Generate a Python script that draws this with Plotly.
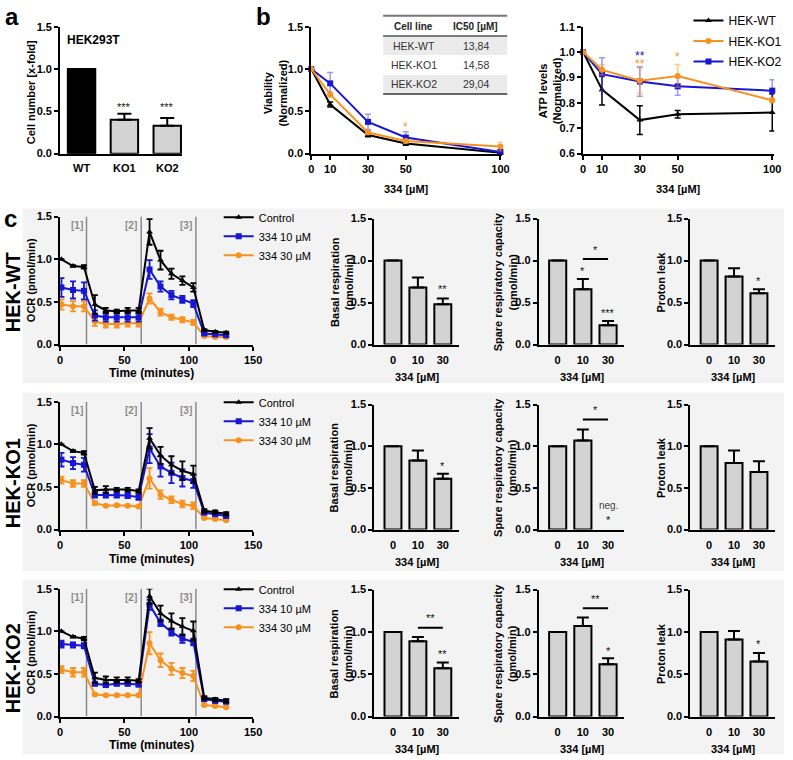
import plotly.graph_objects as go

W, H = 793, 760
FONT = "Liberation Sans, Arial, sans-serif"
BLUE = "#1616d4"
ORANGE = "#f7921e"
BLUE_ERR = "rgba(70,70,235,0.55)"
ORANGE_ERR = "rgba(247,146,30,0.5)"
BAR_FILL = "#d3d3d3"
BG = "#f3f3f3"

# ---------------- data ----------------
# panel a
a_categories = ["WT", "KO1", "KO2"]
a_values = [1.0, 0.40, 0.33]
a_errors = [0.0, 0.07, 0.09]
a_sig = ["", "***", "***"]
a_sig_y = [None, 0.55, 0.55]

# panel b
b_conc = [0, 10, 30, 50, 100]
b_ticks = [0, 10, 30, 50, 100]
b_lines = ["HEK-WT", "HEK-KO1", "HEK-KO2"]
viab_wt = [1.0, 0.58, 0.22, 0.12, 0.01]
viab_wt_err = [0.0, 0.03, 0.02, 0.02, 0.01]
viab_ko1 = [1.0, 0.70, 0.25, 0.15, 0.085]
viab_ko1_err = [0.0, 0.03, 0.02, 0.02, 0.05]
viab_ko2 = [1.0, 0.83, 0.375, 0.19, 0.02]
viab_ko2_err = [0.0, 0.13, 0.09, 0.07, 0.02]
atp_wt = [1.0, 0.852, 0.732, 0.755, 0.762]
atp_wt_err = [0.0, 0.06, 0.057, 0.015, 0.073]
atp_ko1 = [1.0, 0.93, 0.887, 0.906, 0.81]
atp_ko1_err = [0.0, 0.02, 0.05, 0.045, 0.01]
atp_ko2 = [1.0, 0.913, 0.884, 0.865, 0.848]
atp_ko2_err = [0.0, 0.065, 0.058, 0.035, 0.043]
table_header = ["Cell line", "IC50 [µM]"]
table_cell_lines = ["HEK-WT", "HEK-KO1", "HEK-KO2"]
table_ic50 = ["13,84", "14,58", "29,04"]

# panel c - OCR time courses
ocr_time = [1, 10, 18.5, 27, 35.5, 44, 52.5, 61, 69.5, 78, 86.5, 95, 103.5, 112, 120.5, 129]
injections = [20.5, 63, 105.5]
injection_labels = ["[1]", "[2]", "[3]"]
ocr_series = ["Control", "334 10 µM", "334 30 µM"]

wt_ctrl = [1.00, 0.92, 0.91, 0.47, 0.40, 0.39, 0.40, 0.40, 1.32, 0.99, 0.83, 0.75, 0.67, 0.17, 0.15, 0.14]
wt_ctrl_err = [0.0, 0.01, 0.02, 0.11, 0.03, 0.02, 0.03, 0.03, 0.15, 0.11, 0.06, 0.05, 0.05, 0.01, 0.01, 0.01]
wt_10 = [0.67, 0.64, 0.63, 0.34, 0.32, 0.32, 0.32, 0.32, 0.88, 0.68, 0.58, 0.53, 0.48, 0.13, 0.12, 0.11]
wt_10_err = [0.11, 0.10, 0.10, 0.06, 0.05, 0.05, 0.05, 0.05, 0.11, 0.06, 0.05, 0.04, 0.04, 0.02, 0.02, 0.02]
wt_30 = [0.47, 0.45, 0.45, 0.27, 0.24, 0.24, 0.25, 0.25, 0.54, 0.38, 0.32, 0.29, 0.26, 0.10, 0.09, 0.09]
wt_30_err = [0.06, 0.06, 0.06, 0.05, 0.04, 0.04, 0.04, 0.04, 0.06, 0.04, 0.03, 0.03, 0.03, 0.01, 0.01, 0.01]

ko1_ctrl = [1.00, 0.92, 0.90, 0.46, 0.47, 0.47, 0.47, 0.45, 1.07, 0.87, 0.76, 0.69, 0.65, 0.22, 0.205, 0.185]
ko1_ctrl_err = [0.0, 0.01, 0.02, 0.04, 0.04, 0.02, 0.02, 0.02, 0.12, 0.10, 0.10, 0.11, 0.10, 0.02, 0.02, 0.02]
ko1_10 = [0.82, 0.78, 0.76, 0.405, 0.405, 0.405, 0.40, 0.38, 0.95, 0.74, 0.665, 0.605, 0.57, 0.20, 0.18, 0.16]
ko1_10_err = [0.08, 0.07, 0.08, 0.03, 0.03, 0.03, 0.03, 0.03, 0.17, 0.12, 0.12, 0.10, 0.08, 0.02, 0.02, 0.02]
ko1_30 = [0.58, 0.54, 0.54, 0.31, 0.28, 0.285, 0.28, 0.27, 0.60, 0.41, 0.35, 0.30, 0.28, 0.135, 0.125, 0.11]
ko1_30_err = [0.04, 0.04, 0.04, 0.02, 0.01, 0.01, 0.01, 0.01, 0.12, 0.05, 0.04, 0.04, 0.04, 0.01, 0.01, 0.01]

ko2_ctrl = [1.00, 0.935, 0.915, 0.455, 0.43, 0.43, 0.43, 0.42, 1.41, 1.21, 1.12, 1.055, 1.005, 0.22, 0.20, 0.185]
ko2_ctrl_err = [0.0, 0.01, 0.02, 0.06, 0.04, 0.03, 0.03, 0.02, 0.09, 0.09, 0.09, 0.10, 0.11, 0.02, 0.02, 0.02]
ko2_10 = [0.85, 0.84, 0.83, 0.385, 0.37, 0.385, 0.385, 0.375, 1.31, 1.10, 0.99, 0.915, 0.875, 0.205, 0.185, 0.175]
ko2_10_err = [0.04, 0.03, 0.03, 0.02, 0.02, 0.02, 0.02, 0.02, 0.06, 0.04, 0.04, 0.05, 0.04, 0.02, 0.02, 0.02]
ko2_30 = [0.55, 0.52, 0.52, 0.26, 0.25, 0.25, 0.25, 0.25, 0.86, 0.66, 0.56, 0.51, 0.475, 0.135, 0.125, 0.11]
ko2_30_err = [0.04, 0.05, 0.05, 0.01, 0.01, 0.01, 0.01, 0.01, 0.13, 0.08, 0.07, 0.06, 0.06, 0.01, 0.01, 0.01]

# panel c - bar summaries
bar_doses = ["0", "10", "30"]
basal_wt = [1.0, 0.68, 0.48]
basal_wt_err = [0.0, 0.12, 0.07]
spare_wt = [1.0, 0.66, 0.23]
spare_wt_err = [0.0, 0.12, 0.05]
leak_wt = [1.0, 0.81, 0.61]
leak_wt_err = [0.0, 0.10, 0.05]
basal_ko1 = [1.0, 0.83, 0.61]
basal_ko1_err = [0.0, 0.12, 0.06]
spare_ko1 = [1.0, 1.07, None]
spare_ko1_err = [0.0, 0.13, 0.0]
leak_ko1 = [1.0, 0.80, 0.69]
leak_ko1_err = [0.0, 0.15, 0.13]
basal_ko2 = [1.0, 0.89, 0.57]
basal_ko2_err = [0.0, 0.05, 0.07]
spare_ko2 = [1.0, 1.07, 0.62]
spare_ko2_err = [0.0, 0.10, 0.07]
leak_ko2 = [1.0, 0.91, 0.65]
leak_ko2_err = [0.0, 0.10, 0.10]

# significance marks: (row, panel, x index, y, text)
bar_sig = [
    (0, "basal", 2, 0.66, "**"),
    (0, "spare", 1, 0.87, "*"), (0, "spare", 2, 0.37, "***"), (0, "spare", 1.5, 1.13, "*"),
    (0, "leak", 2, 0.76, "*"),
    (1, "basal", 2, 0.76, "*"),
    (1, "spare", 2, 0.12, "*"), (1, "spare", 1.5, 1.43, "*"),
    (2, "basal", 2, 0.74, "**"), (2, "basal", 1.5, 1.16, "**"),
    (2, "spare", 2, 0.78, "*"), (2, "spare", 1.5, 1.39, "**"),
    (2, "leak", 2, 0.86, "*"),
]
# brackets between 10 and 30 µM: (row, panel, y)
bar_brackets = [(0, "spare", 1.02), (1, "spare", 1.32), (2, "basal", 1.05), (2, "spare", 1.28)]

# ---------------- helpers ----------------
fig = go.Figure()
layout = {}
annotations = []
shapes = []


def fx(p):
    return p / W


def fy(p):
    return 1 - p / H


def tfont(size=11, bold=True, color="black"):
    return dict(family=FONT, size=size, color=color, weight="bold" if bold else "normal")


def axis_style(**kw):
    d = dict(showline=True, linecolor="black", linewidth=2, showgrid=False, zeroline=False,
             ticks="outside", ticklen=4, tickwidth=2, tickcolor="black",
             tickfont=tfont(11), fixedrange=True)
    d.update(kw)
    return d


def add_axes(i, x0, x1, y0, y1, xkw, ykw):
    xn = "xaxis" if i == 1 else f"xaxis{i}"
    yn = "yaxis" if i == 1 else f"yaxis{i}"
    xid = "x" if i == 1 else f"x{i}"
    yid = "y" if i == 1 else f"y{i}"
    layout[xn] = axis_style(domain=[fx(x0), fx(x1)], anchor=yid, **xkw)
    layout[yn] = axis_style(domain=[fy(y1), fy(y0)], anchor=xid, **ykw)
    return xid, yid


def ann(text, x, y, size=11, bold=True, angle=0, color="black", xanchor="center", yanchor="middle"):
    annotations.append(dict(text=text, x=fx(x), y=fy(y), xref="paper", yref="paper", showarrow=False,
                            font=tfont(size, bold, color), textangle=angle,
                            xanchor=xanchor, yanchor=yanchor))


def data_ann(text, xid, yid, x, y, size=11, color="#111111", bold=False):
    annotations.append(dict(text=text, x=x, y=y, xref=xid, yref=yid, showarrow=False,
                            font=tfont(size, bold, color), xanchor="center", yanchor="middle"))


def rect(x0, x1, y0, y1, color, layer="below"):
    shapes.append(dict(type="rect", xref="paper", yref="paper", x0=fx(x0), x1=fx(x1), y0=fy(y1), y1=fy(y0),
                       fillcolor=color, line=dict(width=0), layer=layer))


def hline(x0, x1, y, color, width):
    shapes.append(dict(type="line", xref="paper", yref="paper", x0=fx(x0), x1=fx(x1),
                       y0=fy(y), y1=fy(y), line=dict(color=color, width=width)))


# ---------------- background for c rows ----------------
for (t, b) in [(206, 383), (393, 574), (583, 760)]:
    rect(20, W, t, b, BG)

# ---------------- panel a ----------------
xa, ya = add_axes(1, 58, 182, 21, 150,
                  dict(range=[-0.5, 2.35], tickvals=[0, 1, 2], ticktext=a_categories,
                       tickcolor="rgba(0,0,0,0)", ticklen=3),
                  dict(range=[0, 1.5], tickvals=[0, 0.5, 1.0, 1.5], tickformat=".1f"))
fig.add_trace(go.Bar(x=[0, 1, 2], y=a_values, width=0.64, xaxis=xa, yaxis=ya, showlegend=False,
                     marker=dict(color=["black", BAR_FILL, BAR_FILL], line=dict(color="black", width=2)),
                     error_y=dict(type="data", array=a_errors, arrayminus=[0, 0, 0], symmetric=False,
                                  color="black", thickness=2, width=7)))
for i, s in enumerate(a_sig):
    if s:
        data_ann(s, xa, ya, i, a_sig_y[i], size=11)
ann("a", 9, 11, size=24)
ann("HEK293T", 92, 35, size=12)
ann("Cell number [x-fold]", 28, 88, size=11, angle=-90)

# ---------------- panel b ----------------
colors = ["black", ORANGE, BLUE]
err_colors = ["black", ORANGE_ERR, BLUE_ERR]
symbols = ["triangle-up", "circle", "square"]
viab = [(viab_wt, viab_wt_err), (viab_ko1, viab_ko1_err), (viab_ko2, viab_ko2_err)]
atp = [(atp_wt, atp_wt_err), (atp_ko1, atp_ko1_err), (atp_ko2, atp_ko2_err)]

xb1, yb1 = add_axes(2, 313, 507, 21, 150,
                    dict(range=[0, 101], tickvals=b_ticks),
                    dict(range=[0, 1.5], tickvals=[0, 0.5, 1.0, 1.5], tickformat=".1f"))
xb2, yb2 = add_axes(3, 589, 783, 21, 150,
                    dict(range=[0, 101], tickvals=b_ticks),
                    dict(range=[0.6, 1.1], tickvals=[0.6, 0.7, 0.8, 0.9, 1.0, 1.1], tickformat=".1f"))
for k in [0, 2, 1]:
    vals, errs = viab[k]
    fig.add_trace(go.Scatter(x=b_conc, y=vals, xaxis=xb1, yaxis=yb1, mode="lines+markers",
                             showlegend=False, cliponaxis=False,
                             line=dict(color=colors[k], width=2),
                             marker=dict(symbol=symbols[k], size=6, color=colors[k]),
                             error_y=dict(type="data", array=errs, color=err_colors[k], thickness=1.5, width=3)))
for k in [0, 2, 1]:
    vals, errs = atp[k]
    fig.add_trace(go.Scatter(x=b_conc, y=vals, xaxis=xb2, yaxis=yb2, mode="lines+markers",
                             name=b_lines[k], legend="legend", legendrank=k + 1,
                             legendgroup=f"b{k}", cliponaxis=False,
                             line=dict(color=colors[k], width=2),
                             marker=dict(symbol=symbols[k], size=6, color=colors[k]),
                             error_y=dict(type="data", array=errs, color=err_colors[k], thickness=1.5, width=3)))
data_ann("*", xb1, yb1, 50, 0.31, size=12, color=ORANGE)
data_ann("**", xb2, yb2, 30, 0.984, size=12, color=BLUE)
data_ann("**", xb2, yb2, 30, 0.952, size=12, color=ORANGE)
data_ann("*", xb2, yb2, 50, 0.98, size=12, color=ORANGE)
ann("b", 265, 11, size=24)
ann("Viability<br>(Normalized)", 276, 88, size=11, angle=-90)
ann("ATP levels<br>(Normalized)", 555, 86, size=11, angle=-90)
ann("334 [µM]", 410, 186, size=11)
ann("334 [µM]", 686, 186, size=11)

# IC50 table (drawn with shapes and text)
tbl_x0, tbl_x1 = 386, 512
col_x = [417, 480]
row_edges = [30.5, 50, 70, 89.5]
row_fills = ["#ebebeb", "white", "#ebebeb"]
for r in range(3):
    rect(tbl_x0, tbl_x1, row_edges[r], row_edges[r + 1], row_fills[r], layer="above")
hline(tbl_x0, tbl_x1, 10, "#777", 2)
hline(tbl_x0, tbl_x1, 30.5, "#555", 1.5)
hline(tbl_x0, tbl_x1, 89.5, "#666", 2)
for c, txt in enumerate(table_header):
    ann(txt, col_x[c], 21, size=10, bold=True, color="#222")
for r in range(3):
    yc = (row_edges[r] + row_edges[r + 1]) / 2
    ann(table_cell_lines[r], col_x[0], yc, size=10.5, bold=False, color="#333")
    ann(table_ic50[r], col_x[1], yc, size=10.5, bold=False, color="#333")

# ---------------- panel c ----------------
ann("c", 8, 216, size=24)
rows = [
    dict(label="HEK-WT", label_y=291, top=214, bot=344, bar_top=216,
         ocr=[(wt_ctrl, wt_ctrl_err), (wt_10, wt_10_err), (wt_30, wt_30_err)],
         bars=dict(basal=(basal_wt, basal_wt_err), spare=(spare_wt, spare_wt_err), leak=(leak_wt, leak_wt_err)),
         xt_ocr=373, xt_bar=377, legend="legend2", legend_top=200),
    dict(label="HEK-KO1", label_y=485, top=402, bot=532, bar_top=405,
         ocr=[(ko1_ctrl, ko1_ctrl_err), (ko1_10, ko1_10_err), (ko1_30, ko1_30_err)],
         bars=dict(basal=(basal_ko1, basal_ko1_err), spare=(spare_ko1, spare_ko1_err), leak=(leak_ko1, leak_ko1_err)),
         xt_ocr=562, xt_bar=565, legend="legend3", legend_top=388),
    dict(label="HEK-KO2", label_y=673, top=592, bot=722, bar_top=593,
         ocr=[(ko2_ctrl, ko2_ctrl_err), (ko2_10, ko2_10_err), (ko2_30, ko2_30_err)],
         bars=dict(basal=(basal_ko2, basal_ko2_err), spare=(spare_ko2, spare_ko2_err), leak=(leak_ko2, leak_ko2_err)),
         xt_ocr=751, xt_bar=755, legend="legend4", legend_top=578),
]
ocr_colors = ["black", BLUE, ORANGE]
ocr_symbols = ["triangle-up", "square", "circle"]
bar_panels = [("basal", 377, 463, "Basal respiration<br>(pmol/min)", 343.5, 421),
              ("spare", 544, 631, "Spare respiratory capacity<br>(pmol/min)", 509.5, 588),
              ("leak", 698, 784, "Proton leak", 668, 742)]

legend_layouts = {}
for r, row in enumerate(rows):
    base = 4 + r * 4
    xo, yo = add_axes(base, 58, 254, row["top"], row["bot"],
                      dict(range=[0, 150], tickvals=[0, 50, 100, 150]),
                      dict(range=[0, 1.5], tickvals=[0, 0.5, 1.0, 1.5], tickformat=".1f"))
    for t, lab in zip(injections, injection_labels):
        shapes.append(dict(type="line", xref=xo, yref=yo, x0=t, x1=t, y0=0, y1=1.5,
                           line=dict(color="#8a8a8a", width=1.5), layer="below"))
        annotations.append(dict(text=lab, x=t, y=1.5, xref=xo, yref=yo, showarrow=False,
                                xanchor="right", yanchor="top", xshift=-2, yshift=-1,
                                font=tfont(10, True, "#8a8a8a")))
    for k in [2, 1, 0]:
        vals, errs = row["ocr"][k]
        fig.add_trace(go.Scatter(x=ocr_time, y=vals, xaxis=xo, yaxis=yo, mode="lines+markers",
                                 name=ocr_series[k], legend=row["legend"], legendrank=k + 1,
                                 cliponaxis=False,
                                 line=dict(color=ocr_colors[k], width=2),
                                 marker=dict(symbol=ocr_symbols[k], size=6, color=ocr_colors[k]),
                                 error_y=dict(type="data", array=errs, color=ocr_colors[k],
                                              thickness=1.8, width=3)))
    legend_layouts[row["legend"]] = dict(x=fx(219), y=fy(row["legend_top"]), xanchor="left", yanchor="top",
                                         bgcolor="rgba(0,0,0,0)", font=dict(family=FONT, size=11, color="black"),
                                         traceorder="normal", tracegroupgap=0, itemwidth=30)
    ann(row["label"], 11, row["label_y"], size=20, angle=-90)
    ann("OCR (pmol/min)", 28, (row["top"] + row["bot"]) / 2, size=11, angle=-90)
    ann("Time (minutes)", 151, row["xt_ocr"], size=12)

    for j, (key, x0, x1, title, title_x, xt_x) in enumerate(bar_panels):
        xid, yid = add_axes(base + 1 + j, x0, x1, row["bar_top"], row["bot"],
                            dict(range=[-0.75, 2.65], tickvals=[0, 1, 2], ticktext=bar_doses,
                                 tickcolor="rgba(0,0,0,0)", ticklen=4),
                            dict(range=[0, 1.5], tickvals=[0, 0.5, 1.0, 1.5], tickformat=".1f"))
        vals, errs = row["bars"][key]
        fig.add_trace(go.Bar(x=[0, 1, 2], y=vals, width=0.68, xaxis=xid, yaxis=yid, showlegend=False,
                             marker=dict(color=BAR_FILL, line=dict(color="black", width=2)),
                             error_y=dict(type="data", array=errs, arrayminus=[0, 0, 0], symmetric=False,
                                          color="black", thickness=2, width=6)))
        ann(title, title_x, (row["bar_top"] + row["bot"]) / 2, size=11, angle=-90)
        ann("334 [µM]", xt_x, row["xt_bar"], size=11)
        for (rr, kk, xi, yv, txt) in bar_sig:
            if rr == r and kk == key:
                data_ann(txt, xid, yid, xi, yv, size=11)
        for (rr, kk, yv) in bar_brackets:
            if rr == r and kk == key:
                shapes.append(dict(type="line", xref=xid, yref=yid, x0=1, x1=2, y0=yv, y1=yv,
                                   line=dict(color="black", width=2)))
        if r == 1 and key == "spare":
            data_ann("neg.", xid, yid, 2, 0.29, size=10, color="#444")

layout["legend"] = dict(x=fx(696), y=1.0, xanchor="left", yanchor="top", bgcolor="rgba(0,0,0,0)",
                        font=dict(family=FONT, size=12, color="black"), traceorder="grouped",
                        tracegroupgap=1.5, itemwidth=30)
layout.update(legend_layouts)

fig.update_layout(width=W, height=H, margin=dict(l=0, r=0, t=0, b=0),
                  paper_bgcolor="white", plot_bgcolor="rgba(0,0,0,0)",
                  showlegend=True, annotations=annotations, shapes=shapes,
                  font=dict(family=FONT), **layout)

fig.write_html("out.html", config={"displayModeBar": False, "staticPlot": True},
               post_script="document.body.style.margin='0px';document.body.style.overflow='hidden';")
